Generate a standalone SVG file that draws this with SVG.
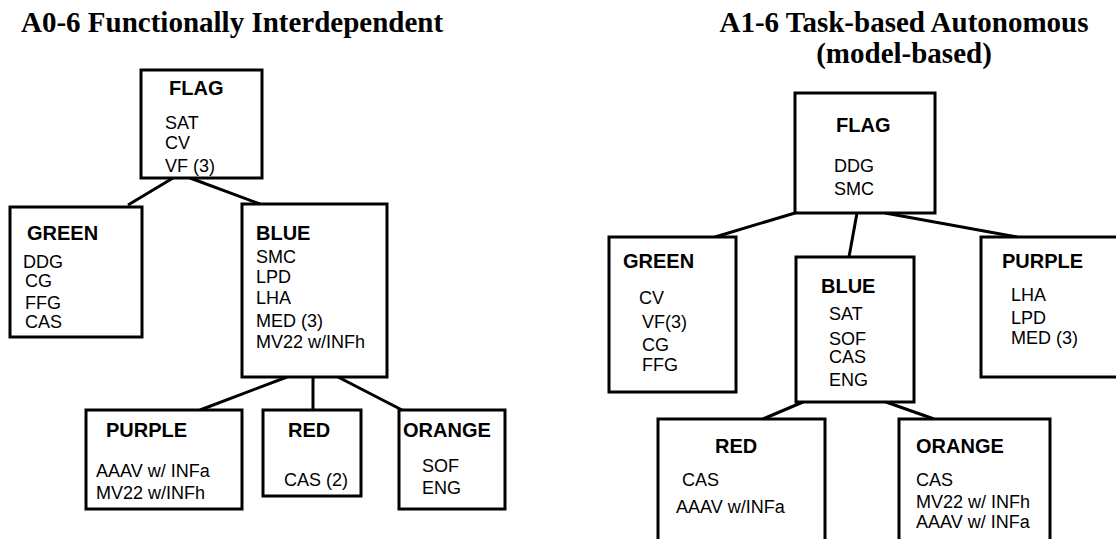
<svg xmlns="http://www.w3.org/2000/svg" width="1116" height="539" viewBox="0 0 1116 539">
<style>
.title{font-family:"Liberation Serif","Times New Roman",serif;font-weight:bold;font-size:29px;fill:#000}
.box{fill:#fff;stroke:#000;stroke-width:3}
.lbl{font-family:"Liberation Sans",Arial,sans-serif;font-weight:bold;font-size:20px;fill:#000}
.txt{font-family:"Liberation Sans",Arial,sans-serif;font-size:18px;fill:#000}
.conn line{stroke:#000;stroke-width:3}
</style>
<rect width="1116" height="539" fill="#fff"/>
<text class="title" x="21" y="32">A0-6 Functionally Interdependent</text>
<text class="title" x="904" y="32" text-anchor="middle">A1-6 Task-based Autonomous</text>
<text class="title" x="904" y="63" text-anchor="middle">(model-based)</text>

<g id="connectors" class="conn">
<line x1="173" y1="178" x2="128" y2="205"/>
<line x1="190" y1="178" x2="260" y2="204"/>
<line x1="287" y1="377" x2="200" y2="410"/>
<line x1="313" y1="377" x2="313" y2="410"/>
<line x1="338" y1="377" x2="402" y2="410"/>
<line x1="795" y1="213" x2="715" y2="237"/>
<line x1="857" y1="213" x2="849" y2="257"/>
<line x1="885" y1="213" x2="1017" y2="237"/>
<line x1="803" y1="402" x2="763" y2="419"/>
<line x1="886" y1="402" x2="934" y2="419"/>
</g>

<g id="a0-flag">
<rect class="box" x="141" y="70" width="121" height="108"/>
<text class="lbl" x="169" y="95">FLAG</text>
<text class="txt" x="165" y="129">SAT</text>
<text class="txt" x="165" y="149">CV</text>
<text class="txt" x="165" y="172">VF (3)</text>
</g>
<g id="a0-green">
<rect class="box" x="10" y="207" width="132" height="130"/>
<text class="lbl" x="27" y="240">GREEN</text>
<text class="txt" x="23" y="268">DDG</text>
<text class="txt" x="25" y="287">CG</text>
<text class="txt" x="25" y="309">FFG</text>
<text class="txt" x="25" y="328">CAS</text>
</g>
<g id="a0-blue">
<rect class="box" x="242" y="204" width="145" height="173"/>
<text class="lbl" x="256" y="240">BLUE</text>
<text class="txt" x="256" y="263">SMC</text>
<text class="txt" x="256" y="283">LPD</text>
<text class="txt" x="256" y="304">LHA</text>
<text class="txt" x="256" y="327">MED (3)</text>
<text class="txt" x="256" y="348">MV22 w/INFh</text>
</g>
<g id="a0-purple">
<rect class="box" x="86" y="410" width="156" height="99"/>
<text class="lbl" x="106" y="437">PURPLE</text>
<text class="txt" x="96" y="477">AAAV w/ INFa</text>
<text class="txt" x="96" y="499">MV22 w/INFh</text>
</g>
<g id="a0-red">
<rect class="box" x="263" y="410" width="98" height="86"/>
<text class="lbl" x="288" y="437">RED</text>
<text class="txt" x="284" y="486">CAS (2)</text>
</g>
<g id="a0-orange">
<rect class="box" x="399" y="410" width="106" height="99"/>
<text class="lbl" x="403" y="437">ORANGE</text>
<text class="txt" x="422" y="472">SOF</text>
<text class="txt" x="422" y="494">ENG</text>
</g>

<g id="a1-flag">
<rect class="box" x="795" y="93" width="140" height="120"/>
<text class="lbl" x="836" y="132">FLAG</text>
<text class="txt" x="834" y="172">DDG</text>
<text class="txt" x="834" y="195">SMC</text>
</g>
<g id="a1-green">
<rect class="box" x="609" y="237" width="127" height="155"/>
<text class="lbl" x="623" y="268">GREEN</text>
<text class="txt" x="639" y="304">CV</text>
<text class="txt" x="642" y="328">VF(3)</text>
<text class="txt" x="642" y="351">CG</text>
<text class="txt" x="642" y="371">FFG</text>
</g>
<g id="a1-blue">
<rect class="box" x="796" y="257" width="118" height="145"/>
<text class="lbl" x="821" y="293">BLUE</text>
<text class="txt" x="829" y="320">SAT</text>
<text class="txt" x="829" y="345">SOF</text>
<text class="txt" x="829" y="363">CAS</text>
<text class="txt" x="829" y="386">ENG</text>
</g>
<g id="a1-purple">
<rect class="box" x="981" y="237" width="150" height="140"/>
<text class="lbl" x="1002" y="268">PURPLE</text>
<text class="txt" x="1011" y="301">LHA</text>
<text class="txt" x="1011" y="324">LPD</text>
<text class="txt" x="1011" y="344">MED (3)</text>
</g>
<g id="a1-red">
<rect class="box" x="658" y="419" width="167" height="140"/>
<text class="lbl" x="715" y="453">RED</text>
<text class="txt" x="682" y="486">CAS</text>
<text class="txt" x="676" y="513">AAAV w/INFa</text>
</g>
<g id="a1-orange">
<rect class="box" x="899" y="419" width="151" height="140"/>
<text class="lbl" x="916" y="453">ORANGE</text>
<text class="txt" x="916" y="486">CAS</text>
<text class="txt" x="916" y="508">MV22 w/ INFh</text>
<text class="txt" x="916" y="528">AAAV w/ INFa</text>
</g>
</svg>
